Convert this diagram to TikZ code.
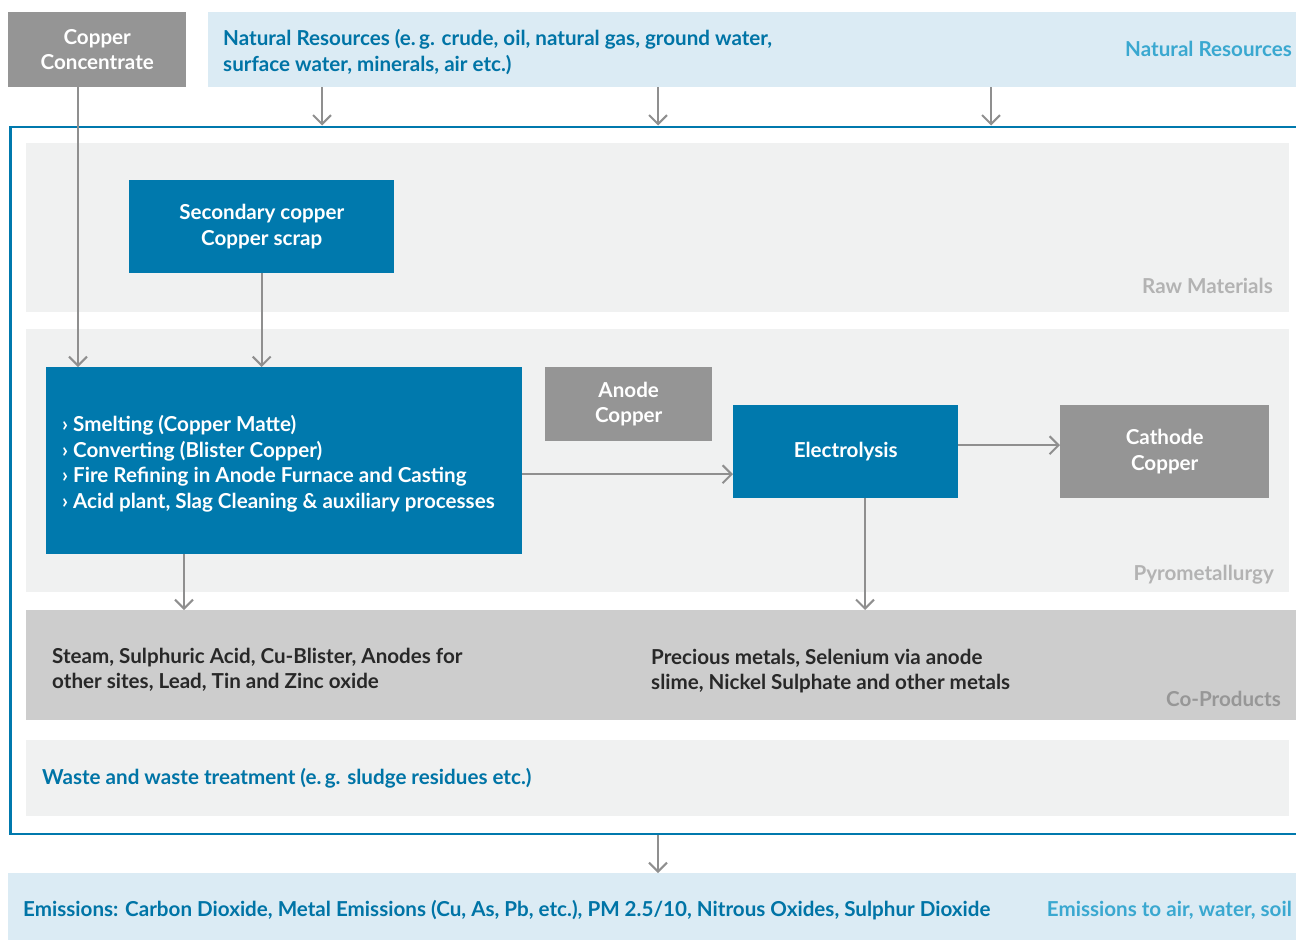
\documentclass[tikz,border=0pt]{standalone}
\usepackage{fontspec}
\setmainfont{Lato}
\usetikzlibrary{arrows.meta,positioning,calc}

\definecolor{cublue}{RGB}{0,121,173}
\definecolor{cugray}{RGB}{149,149,149}
\definecolor{skyband}{RGB}{219,235,244}
\definecolor{panelbg}{RGB}{240,241,241}
\definecolor{coprodbg}{RGB}{205,205,205}
\definecolor{textblue}{RGB}{0,116,166}
\definecolor{labelblue}{RGB}{58,168,208}
\definecolor{labelgray}{RGB}{179,179,179}
\definecolor{arrowgray}{RGB}{143,143,143}
\definecolor{darktext}{RGB}{40,40,40}

\begin{document}
\begin{tikzpicture}[
  x=1pt, y=-1pt,
  font=\fontsize{20.6}{25.5}\selectfont\bfseries,
  >={Straight Barb[length=9pt,width=18pt]},
  box/.style={anchor=north west,inner sep=0pt,align=center,text=white},
  bluebox/.style={box,fill=cublue},
  graybox/.style={box,fill=cugray},
  panel/.style={anchor=north west,inner sep=0pt,fill=panelbg},
  band/.style={anchor=north west,inner sep=0pt,fill=skyband},
  tag/.style={anchor=east,inner sep=0pt,text=labelgray},
  arr/.style={->,draw=arrowgray,line width=2pt}
]
\useasboundingbox (0,0) rectangle (1296,940);

% ---- Bands and panels ----
\node[band, minimum width=1100pt, minimum height=75pt] (nat) at (208,12) {};
\node[band, minimum width=1300pt, minimum height=67pt] (emis) at (8,873) {};
\node[draw=cublue, line width=2.5pt, anchor=north west, inner sep=0pt,
      minimum width=1320pt, minimum height=707pt] (frame) at (9,125.5) {};
\node[panel, minimum width=1263pt, minimum height=169pt] (raw) at (26,143) {};
\node[panel, minimum width=1263pt, minimum height=263pt] (pyro) at (26,329) {};
\node[panel, fill=coprodbg, minimum width=1290pt, minimum height=110pt] (coprod) at (26,610) {};
\node[panel, minimum width=1263pt, minimum height=76pt] (waste) at (26,740) {};

% ---- Boxes ----
\node[graybox, minimum width=178pt, minimum height=75pt] (cc) at (8,12) {Copper\\Concentrate};
\node[bluebox, minimum width=265pt, minimum height=93pt] (sec) at (129,180) {Secondary copper\\Copper scrap};
\node[bluebox, minimum width=476pt, minimum height=187pt] (smelt) at (46,367) {};
\node[graybox, minimum width=167pt, minimum height=74pt] (anode) at (545,367) {Anode\\Copper};
\node[bluebox, minimum width=225pt, minimum height=93pt, text depth=3pt] (elec) at (733,405) {Electrolysis};
\node[graybox, minimum width=209pt, minimum height=93pt] (cath) at (1060,405) {Cathode\\Copper};

% ---- Texts ----
\node[anchor=west, align=left, inner sep=0pt, text=white] (steps) at (62,464)
  {› Smelting (Copper Matte)\\
   › Converting (Blister Copper)\\
   › Fire Refining in Anode Furnace and Casting\\
   › Acid plant, Slag Cleaning \& auxiliary processes};
\node[anchor=west, align=left, inner sep=0pt, text=textblue] (nattxt) at (223,52)
  {Natural Resources (e.\,g. crude, oil, natural gas, ground water,\\surface water, minerals, air etc.)};
\node[anchor=west, align=left, inner sep=0pt, text=darktext] (colft) at (52,670)
  {Steam, Sulphuric Acid, Cu-Blister, Anodes for\\other sites, Lead, Tin and Zinc oxide};
\node[anchor=west, align=left, inner sep=0pt, text=darktext] (corgt) at (651,671)
  {Precious metals, Selenium via anode\\slime, Nickel Sulphate and other metals};
\node[anchor=west, inner sep=0pt, text=textblue] (wastetxt) at (42,778)
  {Waste and waste treatment (e.\,g. sludge residues etc.)};
\node[anchor=west, inner sep=0pt, text=textblue] (emistxt) at (23,910)
  {Emissions: Carbon Dioxide, Metal Emissions (Cu, As, Pb, etc.), PM 2.5/10, Nitrous Oxides, Sulphur Dioxide};

% ---- Tags ----
\node[tag, text=labelblue] (nattag) at (1292,49) {Natural Resources};
\node[tag] (rawtag) at (1273,286) {Raw Materials};
\node[tag] (pyrotag) at (1274,575) {Pyrometallurgy};
\node[tag, text=coprodbg!40!black!60] (cotag) at (1281,699) {Co-Products};
\node[tag, text=labelblue] (emistag) at (1292,910) {Emissions to air, water, soil};

% ---- Arrows ----
\foreach \x in {322,658,991} {
  \draw[arr] (nat.south -| \x,0) -- (frame.north -| \x,0);
}
\draw[arr] (cc.south -| 78,0) -- (smelt.north -| 78,0);
\draw[arr] (sec.south) -- (smelt.north -| sec.south);
\draw[arr] ([yshift=-13.5pt]smelt.east) -- ([yshift=-13.5pt]smelt.east -| elec.west);
\draw[arr] ([yshift=6.5pt]elec.east) -- ([yshift=6.5pt]elec.east -| cath.west);
\draw[arr] (smelt.south -| 184,0) -- (coprod.north -| 184,0);
\draw[arr] (elec.south -| 865,0) -- (coprod.north -| 865,0);
\draw[arr] (frame.south -| 658,0) -- (emis.north -| 658,0);

\end{tikzpicture}
\end{document}
